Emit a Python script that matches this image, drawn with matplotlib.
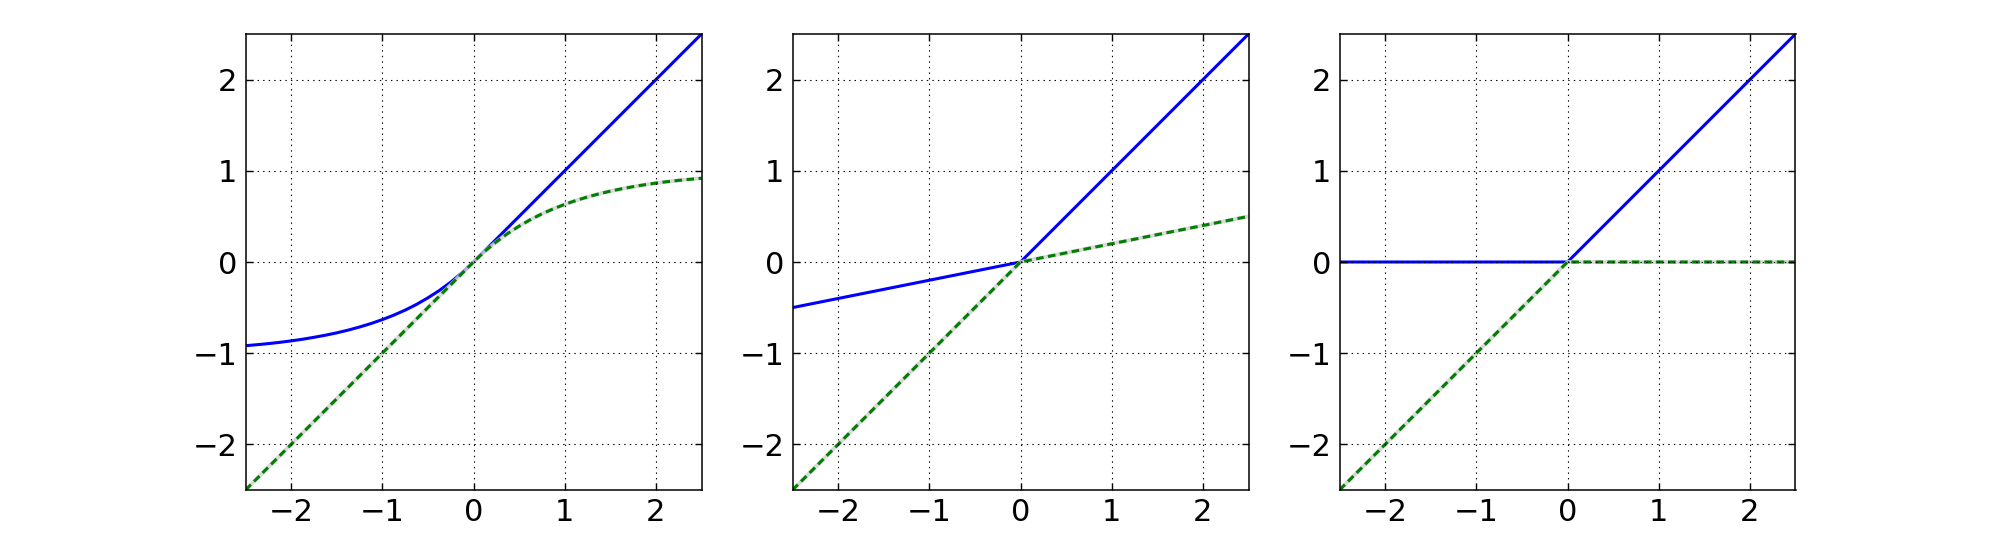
import matplotlib
matplotlib.use("Agg")
import matplotlib.pyplot as plt

# x grid (panel 1)
x_curve = [-2.5, -2.375, -2.25, -2.125, -2.0, -1.875, -1.75, -1.625, -1.5, -1.375,
           -1.25, -1.125, -1.0, -0.875, -0.75, -0.625, -0.5, -0.375, -0.25, -0.125,
           0.0, 0.125, 0.25, 0.375, 0.5, 0.625, 0.75, 0.875, 1.0, 1.125, 1.25,
           1.375, 1.5, 1.625, 1.75, 1.875, 2.0, 2.125, 2.25, 2.375, 2.5]

# panel 1 (ELU-like)
elu_blue = [-0.918, -0.907, -0.895, -0.881, -0.865, -0.847, -0.826, -0.803, -0.777, -0.747,
            -0.713, -0.675, -0.632, -0.583, -0.528, -0.465, -0.393, -0.313, -0.221, -0.118,
            0.0, 0.125, 0.25, 0.375, 0.5, 0.625, 0.75, 0.875, 1.0, 1.125, 1.25,
            1.375, 1.5, 1.625, 1.75, 1.875, 2.0, 2.125, 2.25, 2.375, 2.5]
elu_green = [-2.5, -2.375, -2.25, -2.125, -2.0, -1.875, -1.75, -1.625, -1.5, -1.375,
             -1.25, -1.125, -1.0, -0.875, -0.75, -0.625, -0.5, -0.375, -0.25, -0.125,
             0.0, 0.118, 0.221, 0.313, 0.393, 0.465, 0.528, 0.583, 0.632, 0.675, 0.713,
             0.747, 0.777, 0.803, 0.826, 0.847, 0.865, 0.881, 0.895, 0.907, 0.918]

# panel 2 (leaky)
x_lin = [-2.5, 0.0, 2.5]
leaky_blue = [-0.5, 0.0, 2.5]
leaky_green = [-2.5, 0.0, 0.5]

# panel 3 (ReLU)
relu_blue = [0.0, 0.0, 2.5]
relu_green = [-2.5, 0.0, 0.0]

ticks = [-2, -1, 0, 1, 2]
tick_labels = ["\u22122", "\u22121", "0", "1", "2"]

plt.rcParams['font.family'] = ['DejaVu Sans']
plt.rcParams['font.size'] = 22
plt.rcParams['lines.scale_dashes'] = False

fig = plt.figure(figsize=(19.95, 5.38), dpi=100)
W, H = 1995.0, 538.0
lefts = [245.5, 792.5, 1339.5]
aw = 456.0
top_px, bot_px = 34.0, 490.0

panels = [
    (x_curve, elu_blue, x_curve, elu_green),
    (x_lin, leaky_blue, x_lin, leaky_green),
    (x_lin, relu_blue, x_lin, relu_green),
]

for lp, (xb, yb, xg, yg) in zip(lefts, panels):
    ax = fig.add_axes([lp / W, 1 - bot_px / H, aw / W, (bot_px - top_px) / H])
    ax.plot(xb, yb, color='#0000ff', lw=2.2, solid_capstyle='butt', zorder=2)
    ax.plot(xg, yg, color='#d3d3d3', lw=2.8, alpha=0.85, zorder=2.1)
    ax.plot(xg, yg, color='#008000', lw=2.2, linestyle='--', dashes=(5.5, 3.2),
            zorder=2.2)
    ax.set_xlim(-2.5, 2.5)
    ax.set_ylim(-2.5, 2.5)
    ax.set_xticks(ticks)
    ax.set_xticklabels(tick_labels)
    ax.set_yticks(ticks)
    ax.set_yticklabels(tick_labels)
    ax.set_axisbelow(False)
    ax.grid(True, color='black', linestyle=(0, (1, 3)), linewidth=0.8, zorder=3)
    ax.tick_params(direction='in', length=5, width=1, top=True, right=True,
                   pad=6, labelsize=22)
    for s in ax.spines.values():
        s.set_linewidth(1.1)
        s.set_zorder(4)

fig.savefig("out.png", dpi=100)
